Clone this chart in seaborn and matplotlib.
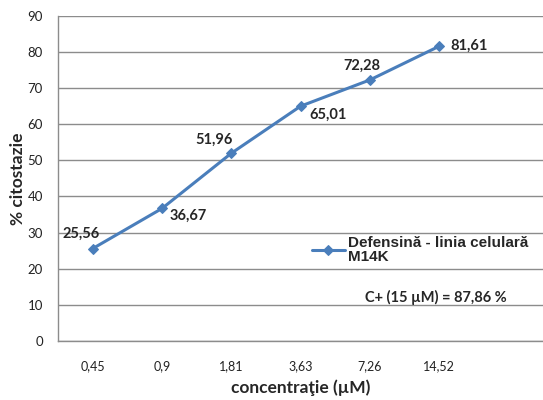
import seaborn as sns
import matplotlib.pyplot as plt
import matplotlib.ticker as mticker
import numpy as np
import pandas as pd

# data
concentratii = ["0,45", "0,9", "1,81", "3,63", "7,26", "14,52"]
citostazie = [25.56, 36.67, 51.96, 65.01, 72.28, 81.61]
etichete = ["25,56", "36,67", "51,96", "65,01", "72,28", "81,61"]

df = pd.DataFrame({"poz": np.arange(len(concentratii)), "val": citostazie})

sns.set_style("white")
plt.rcParams["font.family"] = ["Lato", "DejaVu Sans"]

fig = plt.figure(figsize=(5.43, 4.0), dpi=100)
ax = fig.add_axes([0.107, 0.148, 0.893, 0.812])

blue = "#4a7ebb"
sns.lineplot(data=df, x="poz", y="val", ax=ax, color=blue, linewidth=2.2,
             marker="D", markersize=5, markeredgecolor=blue,
             label="Defensină - linia celulară\nM14K", legend=False)

ax.set_ylim(0, 90)
ax.set_xlim(-0.5, len(concentratii) + 0.5)
ax.set_yticks(range(0, 91, 10))
ax.yaxis.grid(True, color="#8c8c8c", linewidth=1)
ax.set_axisbelow(True)

ax.set_xticks(np.arange(len(concentratii)))
ax.set_xticklabels(concentratii)
ax.xaxis.set_minor_locator(mticker.FixedLocator(np.arange(-0.5, len(concentratii) + 0.6, 1)))
ax.tick_params(axis="x", which="major", length=0, pad=14, labelsize=9, labelcolor="#222222")
ax.tick_params(axis="x", which="minor", length=5, color="#8c8c8c", direction="out")
ax.tick_params(axis="y", length=5, color="#8c8c8c", direction="out", labelsize=9.5,
               labelcolor="#222222", pad=6)

for side in ["top", "right"]:
    ax.spines[side].set_visible(False)
for side in ["left", "bottom"]:
    ax.spines[side].set_color("#8c8c8c")
    ax.spines[side].set_linewidth(1)

ax.set_xlabel("concentraţie (µM)", fontsize=12.5, fontweight="bold", labelpad=5)
ax.set_ylabel("% citostazie", fontsize=12.5, fontweight="bold", labelpad=1)

# data labels (offsets in pixels, left edge of text)
offsets = [(-30, 15), (8, -7), (-36, 13), (9, -9), (-26, 14), (11, 0)]
for i, (v, t) in enumerate(zip(citostazie, etichete)):
    dx, dy = offsets[i]
    ax.annotate(t, (i, v), xytext=(dx, dy), textcoords="offset pixels",
                fontsize=10.5, fontweight="bold", va="center", ha="left")

leg = ax.legend(loc="upper left", bbox_to_anchor=(0.51, 0.34), frameon=False,
                handlelength=2.2, handletextpad=0.2, borderaxespad=0,
                prop={"family": "Liberation Sans", "weight": "bold", "size": 11})
for txt in leg.get_texts():
    txt.set_linespacing(0.95)

ax.text(0.632, 0.134, "C+ (15 µM) = 87,86 %", transform=ax.transAxes,
        fontsize=10.5, fontweight="bold", ha="left", va="center")

fig.savefig("out.png", dpi=100)
